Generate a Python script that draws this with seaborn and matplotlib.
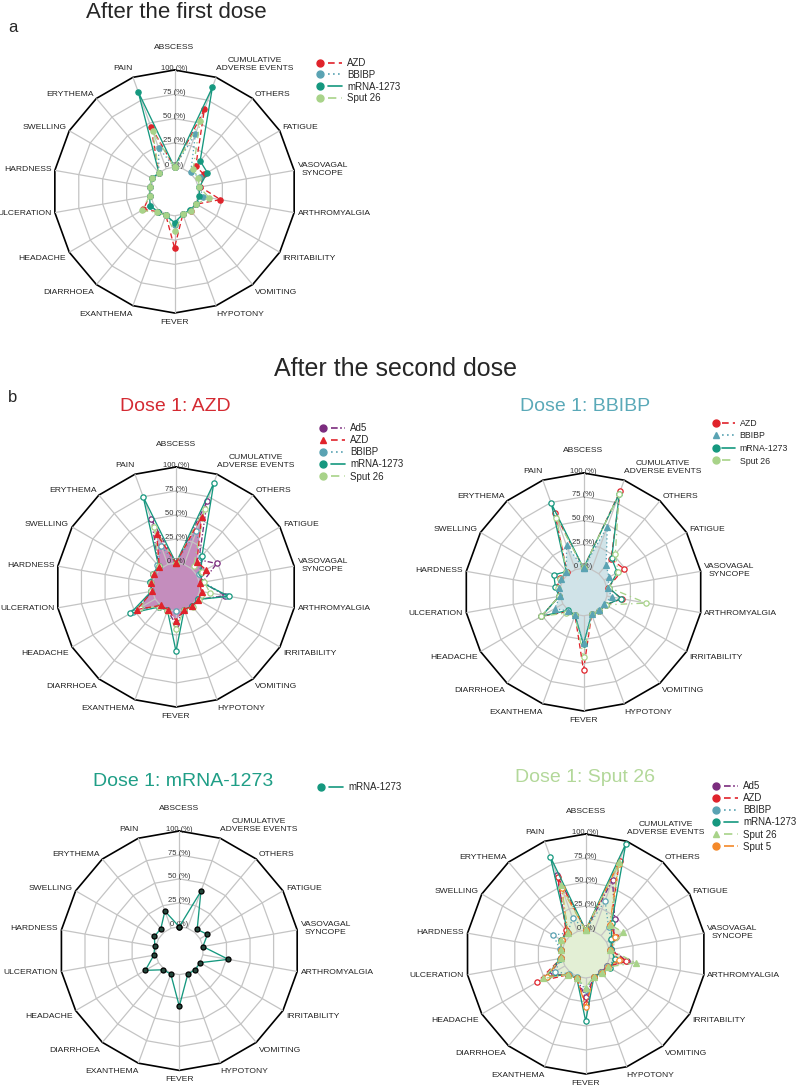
import numpy as np
import seaborn as sns
import matplotlib.pyplot as plt
from matplotlib.lines import Line2D
from matplotlib.legend_handler import HandlerTuple

categories = ['ABSCESS', 'CUMULATIVE\nADVERSE EVENTS', 'OTHERS', 'FATIGUE',
              'VASOVAGAL\nSYNCOPE', 'ARTHROMYALGIA', 'IRRITABILITY', 'VOMITING',
              'HYPOTONY', 'FEVER', 'EXANTHEMA', 'DIARRHOEA', 'HEADACHE',
              'ULCERATION', 'HARDNESS', 'SWELLING', 'ERYTHEMA', 'PAIN']
levels = [0, 25, 50, 75, 100]

# after the first dose (%)
a_azd = [0, 65, 9, 10, 2, 23, 1, 1, 0, 33, 1, 2, 12, 1, 1, 2, 0, 46]
a_bbibp = [0, 38, 1, 5, 1, 5, 1, 0, 0, 9, 1, 2, 4, 1, 1, 2, 0, 23]
a_mrna = [0, 89, 16, 14, 1, 1, 1, 0, 0, 7, 1, 2, 4, 1, 1, 2, 0, 84]
a_sput26 = [0, 52, 5, 3, 1, 11, 1, 1, 0, 16, 1, 3, 14, 1, 1, 2, 0, 41]

# after the second dose, dose 1 = AZD
b1_ad5 = [0, 70, 12, 24, 3, 27, 1, 1, 0, 14, 1, 2, 20, 1, 1, 3, 3, 50]
b1_azd = [0, 53, 9, 11, 0, 2, 2, 1, 0, 10, 0, 0, 22, 0, 1, 2, 2, 34]
b1_bbibp = [0, 37, 16, 3, 4, 29, 1, 1, 0, 0, 1, 2, 27, 1, 2, 3, 5, 20]
b1_mrna = [0, 90, 17, 5, 2, 31, 1, 1, 0, 42, 1, 2, 30, 1, 2, 3, 3, 75]
b1_sput26 = [0, 62, 4, 6, 5, 11, 3, 2, 0, 19, 2, 2, 18, 1, 1, 3, 3, 41]

# dose 1 = BBIBP
b2_azd = [0, 88, 20, 24, 1, 16, 2, 1, 0, 57, 1, 2, 26, 1, 3, 4, 2, 63]
b2_bbibp = [0, 48, 12, 6, 1, 5, 0, 0, 0, 29, 1, 1, 10, 0, 1, 2, 3, 27]
b2_mrna = [0, 85, 21, 16, 2, 15, 2, 1, 0, 30, 1, 0, 26, 1, 5, 11, 3, 74]
b2_sput26 = [0, 84, 27, 17, 2, 42, 2, 1, 0, 43, 1, 4, 26, 1, 2, 3, 3, 58]

# dose 1 = mRNA-1273
c1_mrna = [0, 41, 4, 9, 0, 27, 0, 1, 1, 33, 1, 1, 16, 2, 1, 5, 5, 19]

# dose 1 = Sput 26
c2_ad5 = [0, 57, 22, 8, 2, 19, 1, 0, 0, 20, 2, 3, 19, 1, 1, 4, 5, 63]
c2_azd = [0, 78, 15, 11, 1, 18, 1, 0, 0, 27, 2, 3, 33, 1, 1, 4, 7, 60]
c2_bbibp = [0, 34, 12, 5, 1, 6, 1, 0, 0, 13, 1, 2, 12, 1, 2, 14, 4, 15]
c2_mrna = [0, 97, 17, 6, 2, 6, 4, 1, 0, 45, 2, 3, 22, 2, 1, 5, 4, 83]
c2_sput26 = [0, 77, 15, 20, 1, 28, 2, 1, 0, 10, 2, 3, 26, 1, 1, 5, 3, 51]
c2_sput5 = [0, 75, 14, 10, 1, 10, 2, 1, 0, 30, 2, 3, 22, 1, 1, 4, 4, 48]

colors = {'Ad5': '#7b2c7e', 'AZD': '#e0232b', 'BBIBP': '#5aa3b3',
          'mRNA-1273': '#15987f', 'Sput 26': '#a8d389', 'Sput 5': '#f4892a'}
styles = {'Ad5': (0, (4, 1.5, 1, 1.5)), 'AZD': (0, (4, 2.5)), 'BBIBP': (0, (1, 2)),
          'mRNA-1273': '-', 'Sput 26': (0, (5, 3, 1, 3)), 'Sput 5': (0, (6, 2, 1, 2))}

sns.set_theme(style='white')
plt.rcParams['font.family'] = ['Liberation Sans', 'DejaVu Sans']

W, H = 796, 1087
fig = plt.figure(figsize=(W / 100, H / 100), dpi=100)

theta = np.linspace(0, 2 * np.pi, len(categories), endpoint=False)
theta_c = np.append(theta, 2 * np.pi)


def radar_axes(cx, cy, r):
    ax = fig.add_axes([(cx - r) / W, (H - cy - r) / H, 2 * r / W, 2 * r / H], projection='polar')
    ax.set_theta_zero_location('N')
    ax.set_theta_direction(-1)
    ax.grid(False)
    for sp in ax.spines.values():
        sp.set_edgecolor('none')
        sp.set_linewidth(0)
    for lv in levels:
        outer = lv == 100
        ax.plot(theta_c, [lv] * len(theta_c), color='black' if outer else '#c4c4c4',
                lw=1.2 if outer else 0.9, zorder=1, clip_on=False)
    for t in theta:
        ax.plot([t, t], [0, 100], color='#c4c4c4', lw=0.9, zorder=1)
    for lv in levels:
        ax.text(0, lv + 2, f'{lv} (%)', fontsize=5.5, ha='center', va='center',
                color='#333333', zorder=2)
    for t, name in zip(theta, categories):
        s, c = np.sin(t), np.cos(t)
        ha = 'center' if abs(s) < 0.2 else ('left' if s > 0 else 'right')
        va = 'bottom' if c > 0.8 else ('top' if c < -0.4 else 'center')
        dx, dy = 2.5 * s, 4 * c
        if 0.2 < abs(s) < 0.5:
            dx = 0
        if abs(t) < 1e-6:
            dy = 14
        ax.annotate(name, xy=(t, 100), xytext=(dx, dy), textcoords='offset points',
                    ha=ha, va=va, multialignment='center', fontsize=6.1,
                    color='#222222', annotation_clip=False)
    return ax


def series(ax, vals, name, marker='o', hollow=False, ms=3.8, z=3, face=None, edge=None):
    r = list(vals) + [vals[0]]
    c = colors[name]
    sns.lineplot(x=theta_c, y=r, ax=ax, sort=False, estimator=None, color=c,
                 linestyle=styles[name], linewidth=0.95, marker=marker, markersize=ms,
                 markerfacecolor='white' if hollow else (face or c),
                 markeredgecolor=edge or c, markeredgewidth=0.9, zorder=z, clip_on=False)


def area(ax, vals, color):
    ax.fill(theta_c, list(vals) + [vals[0]], color=color, zorder=0.5, lw=0, clip_on=False)


def finish(ax):
    ax.set_xlabel('')
    ax.set_ylabel('')
    ax.set_xticks([])
    ax.set_yticks([])
    ax.set_ylim(0, 100)
    ax.set_rorigin(-25)


def add_legend(ax, names, markers, x, y, fs=7, sp=0.22):
    handles = []
    for n, m in zip(names, markers):
        c = colors[n]
        handles.append((Line2D([], [], ls='none', marker=m, color=c, markersize=5),
                        Line2D([], [], ls=styles[n], color=c, lw=1.2)))
    ax.legend(handles, names, handler_map={tuple: HandlerTuple(ndivide=None, pad=0)},
              loc='upper left', bbox_to_anchor=(x / W, 1 - y / H),
              bbox_transform=fig.transFigure, frameon=False, fontsize=fs,
              handlelength=3.0, handletextpad=0.5, labelspacing=sp,
              borderpad=0, borderaxespad=0)


# ---- a: after the first dose
fig.text(176 / W, 1 - 12 / H, 'After the first dose', fontsize=16, ha='center', va='center')
fig.text(8 / W, 1 - 27 / H, 'a', fontsize=12, ha='left', va='center')
ax = radar_axes(174.5, 191.5, 121.5)
series(ax, a_azd, 'AZD')
series(ax, a_bbibp, 'BBIBP')
series(ax, a_mrna, 'mRNA-1273')
series(ax, a_sput26, 'Sput 26')
finish(ax)
add_legend(ax, ['AZD', 'BBIBP', 'mRNA-1273', 'Sput 26'], ['o'] * 4, 313, 58, sp=0.18)

# ---- b: after the second dose
fig.text(396 / W, 1 - 369 / H, 'After the second dose', fontsize=18, ha='center', va='center')
fig.text(8 / W, 1 - 397 / H, 'b', fontsize=12, ha='left', va='center')

ax = radar_axes(176, 587, 120)
fig.text(175 / W, 1 - 407 / H, 'Dose 1: AZD', fontsize=14, color='#d42a32', ha='center', va='center')
area(ax, b1_azd, '#c48dbd')
series(ax, b1_ad5, 'Ad5', hollow=True)
series(ax, b1_bbibp, 'BBIBP', hollow=True)
series(ax, b1_mrna, 'mRNA-1273', hollow=True)
series(ax, b1_sput26, 'Sput 26', hollow=True)
series(ax, b1_azd, 'AZD', marker='^', z=4)
finish(ax)
add_legend(ax, ['Ad5', 'AZD', 'BBIBP', 'mRNA-1273', 'Sput 26'], ['o', '^', 'o', 'o', 'o'], 316, 423)

ax = radar_axes(583.5, 592, 119)
fig.text(585 / W, 1 - 407 / H, 'Dose 1: BBIBP', fontsize=14, color='#5aa9b8', ha='center', va='center')
area(ax, b2_bbibp, '#d0e3e8')
series(ax, b2_azd, 'AZD', hollow=True)
series(ax, b2_mrna, 'mRNA-1273', hollow=True)
series(ax, b2_sput26, 'Sput 26', hollow=True)
series(ax, b2_bbibp, 'BBIBP', marker='^', z=4)
finish(ax)
add_legend(ax, ['AZD', 'BBIBP', 'mRNA-1273', 'Sput 26'], ['o', '^', 'o', 'o'], 709, 419,
           fs=6.3, sp=0.4)

ax = radar_axes(179.3, 950.7, 119.7)
fig.text(183 / W, 1 - 781 / H, 'Dose 1: mRNA-1273', fontsize=14, color='#1f9e86', ha='center', va='center')
series(ax, c1_mrna, 'mRNA-1273', face='#24473b', edge='black', ms=3.6)
finish(ax)
add_legend(ax, ['mRNA-1273'], ['o'], 314, 782)

ax = radar_axes(585.7, 954, 120)
fig.text(585 / W, 1 - 777 / H, 'Dose 1: Sput 26', fontsize=14, color='#b3d89a', ha='center', va='center')
area(ax, c2_sput26, '#e3efd5')
series(ax, c2_ad5, 'Ad5', hollow=True)
series(ax, c2_azd, 'AZD', hollow=True)
series(ax, c2_bbibp, 'BBIBP', hollow=True)
series(ax, c2_mrna, 'mRNA-1273', hollow=True)
series(ax, c2_sput5, 'Sput 5', hollow=True)
series(ax, c2_sput26, 'Sput 26', marker='^', z=4)
finish(ax)
add_legend(ax, ['Ad5', 'AZD', 'BBIBP', 'mRNA-1273', 'Sput 26', 'Sput 5'],
           ['o', 'o', 'o', 'o', '^', 'o'], 709, 781)

fig.savefig('out.png', dpi=100)
